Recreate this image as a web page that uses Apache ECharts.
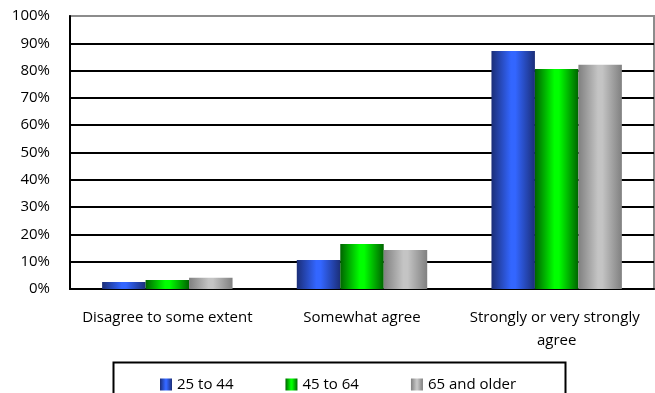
<!DOCTYPE html>
<html>
<head>
<meta charset="utf-8">
<script src="https://cdn.jsdelivr.net/npm/echarts@6/dist/echarts.min.js"></script>
<style>
  html, body { margin: 0; padding: 0; background: #fff; }
  #chart { width: 655px; height: 393px; }
</style>
</head>
<body>
<div id="chart"></div>
<script>
// Agreement levels by age group (share of respondents, %)
const categories = ['Disagree to some extent', 'Somewhat agree', 'Strongly or very strongly agree'];
const seriesNames = ['25 to 44', '45 to 64', '65 and older'];
const age25to44 = [2.6, 10.6, 87.2];
const age45to64 = [3.3, 16.5, 80.6];
const age65plus = [4.1, 14.3, 82.1];
const yTicks = [0, 10, 20, 30, 40, 50, 60, 70, 80, 90, 100];

const FONT = 'Open Sans';

// cylinder-like shading: dark edges, bright middle
function shade(edge, mid) {
  return new echarts.graphic.LinearGradient(0, 0, 1, 0, [
    { offset: 0, color: edge },
    { offset: 0.45, color: mid },
    { offset: 0.55, color: mid },
    { offset: 1, color: edge }
  ]);
}
const fills = [
  shade('#1b2e78', '#3366ff'),
  shade('#006400', '#00ff00'),
  shade('#808080', '#c4c4c4')
];
const values = [age25to44, age45to64, age65plus];

const chart = echarts.init(document.getElementById('chart'), null, { renderer: 'canvas' });
chart.setOption({
  animation: false,
  backgroundColor: '#ffffff',
  textStyle: { fontFamily: FONT, color: '#000' },
  grid: {
    left: 70, right: 1, top: 16, bottom: 104,
    show: true, borderColor: '#8c8c8c', borderWidth: 2, backgroundColor: 'transparent'
  },
  legend: {
    data: seriesNames,
    left: 155, top: 372,
    itemWidth: 12, itemHeight: 12, itemGap: 52,
    icon: 'rect',
    textStyle: { fontFamily: FONT, fontSize: 15, color: '#000' }
  },
  graphic: [{
    type: 'rect',
    left: 111, top: 360,
    shape: { width: 452, height: 60 },
    style: { fill: 'none', stroke: '#000', lineWidth: 2 },
    silent: true
  }],
  xAxis: {
    type: 'category',
    data: categories,
    axisLine: { show: true, lineStyle: { color: '#000', width: 2 } },
    axisTick: { show: false },
    axisLabel: {
      margin: 17, fontFamily: FONT, fontSize: 15, color: '#000',
      width: 182, overflow: 'break', lineHeight: 23, interval: 0
    }
  },
  yAxis: {
    type: 'value',
    min: 0, max: 100, interval: 10,
    axisLine: { show: true, lineStyle: { color: '#000', width: 2 } },
    axisTick: { show: false },
    axisLabel: {
      margin: 20, fontFamily: FONT, fontSize: 15, color: '#000',
      formatter: v => yTicks.includes(v) ? v + '%' : ''
    },
    splitLine: { show: true, showMaxLine: false, lineStyle: { color: '#000', width: 2 } }
  },
  series: seriesNames.map((name, i) => ({
    name,
    type: 'bar',
    data: values[i],
    barGap: '0%',
    barCategoryGap: '33%',
    itemStyle: { color: fills[i] }
  }))
});
</script>
</body>
</html>
